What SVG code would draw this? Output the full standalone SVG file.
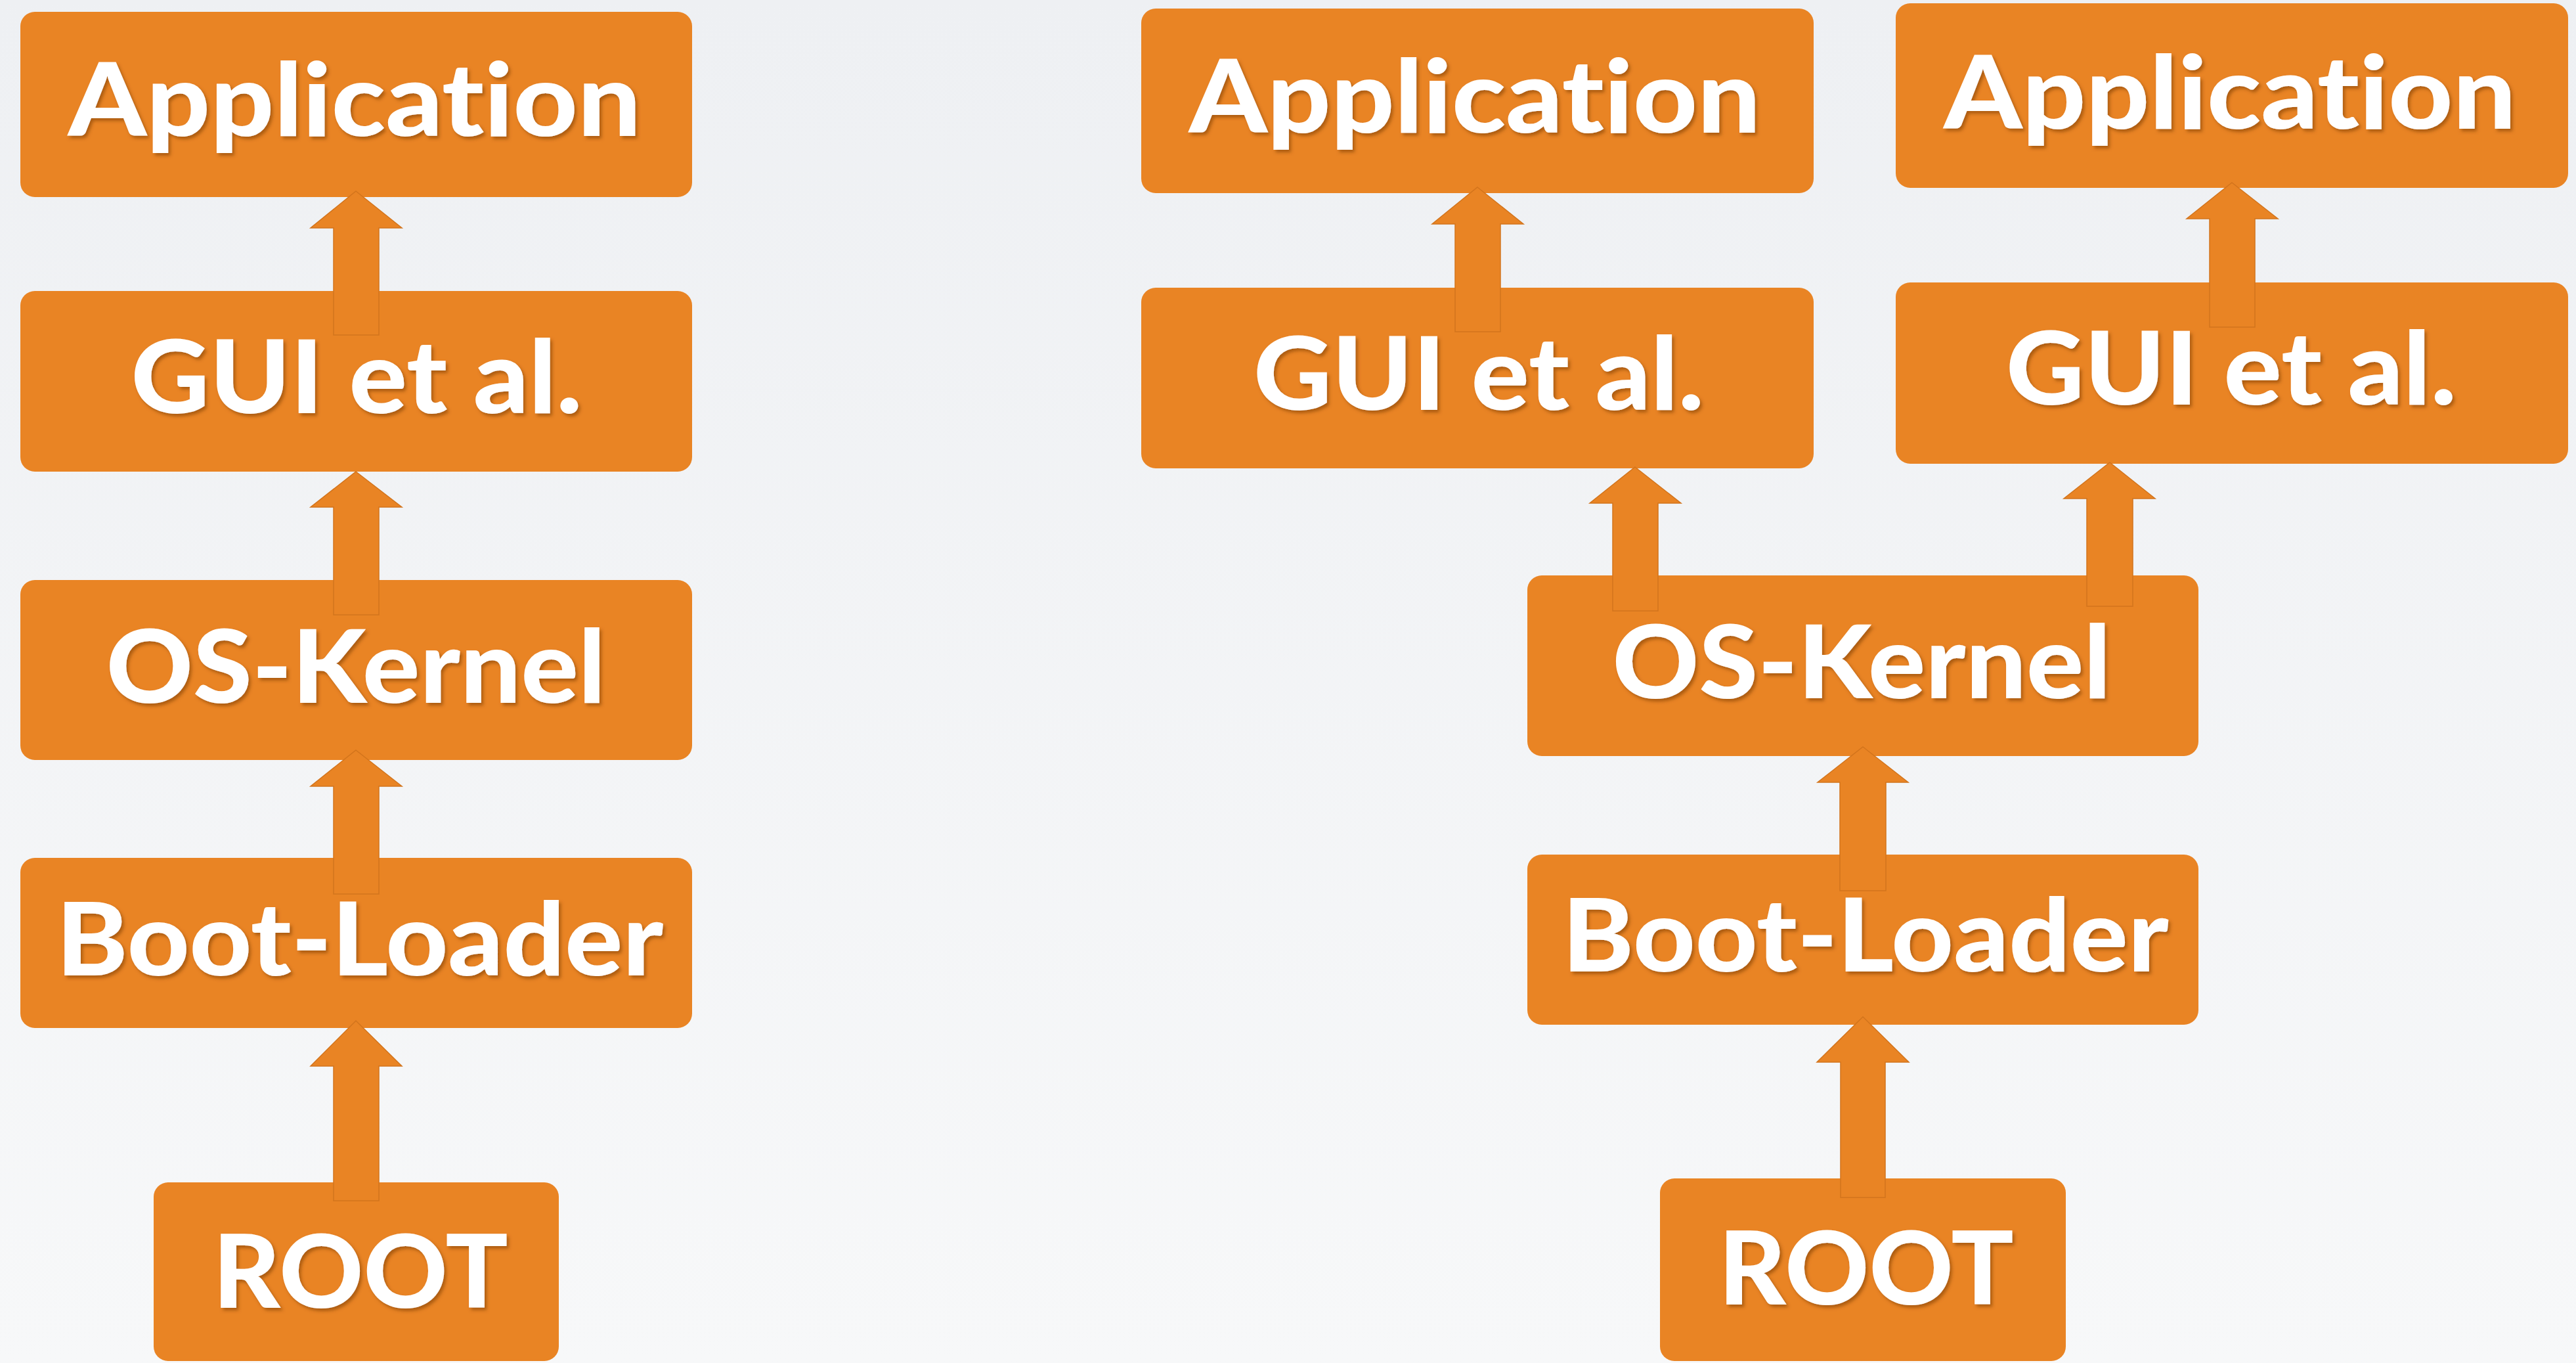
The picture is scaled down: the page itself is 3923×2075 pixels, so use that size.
<svg xmlns="http://www.w3.org/2000/svg" width="3923" height="2075" viewBox="0 0 3923 2075">
  <defs>
    <linearGradient id="bg" x1="0" y1="0" x2="0" y2="1">
      <stop offset="0" stop-color="#eef0f3"/>
      <stop offset="1" stop-color="#f7f8f9"/>
    </linearGradient>
    <filter id="shadow" x="-5%" y="-20%" width="110%" height="140%">
      <feDropShadow dx="3" dy="4" stdDeviation="2.5" flood-color="#7a3a00" flood-opacity="0.55"/>
    </filter>
  </defs>
  <style>
    .box { fill: #e98424; }
    .label { font-family: Lato, "Open Sans", "Liberation Sans", sans-serif; font-weight: 900; font-size: 154px; fill: #ffffff; text-anchor: middle; font-variant-ligatures: none; font-feature-settings: "liga" 0, "clig" 0, "dlig" 0; filter: url(#shadow); }
    .arrow { fill: #e98424; stroke: #d2741c; stroke-width: 1.5; stroke-linejoin: miter; }
  </style>

  <rect x="0" y="0" width="3923" height="2075" fill="url(#bg)"/>

  <!-- labels are widened slightly (scale 1.08 in x) around their centre -->

  <!-- left stack: one chain from ROOT up to a single application -->
  <g id="left-app">
    <rect class="box" x="31" y="18" width="1023" height="282" rx="22" ry="22"/>
    <text class="label" transform="translate(540 207) scale(1.08 1)" textLength="808" lengthAdjust="spacingAndGlyphs">Application</text>
  </g>
  <g id="left-gui">
    <rect class="box" x="31" y="443" width="1023" height="275" rx="22" ry="22"/>
    <text class="label" transform="translate(543 629) scale(1.08 1)" textLength="636" lengthAdjust="spacingAndGlyphs">GUI et al.</text>
  </g>
  <g id="left-kernel">
    <rect class="box" x="31" y="883" width="1023" height="274" rx="22" ry="22"/>
    <text class="label" transform="translate(542 1070) scale(1.08 1)" textLength="704" lengthAdjust="spacingAndGlyphs">OS-Kernel</text>
  </g>
  <g id="left-bootloader">
    <rect class="box" x="31" y="1306" width="1023" height="259" rx="22" ry="22"/>
    <text class="label" transform="translate(548 1485) scale(1.08 1)" textLength="856" lengthAdjust="spacingAndGlyphs">Boot-Loader</text>
  </g>
  <g id="left-root">
    <rect class="box" x="234" y="1800" width="617" height="272" rx="22" ry="22"/>
    <text class="label" transform="translate(549 1991) scale(1.08 1)" textLength="416" lengthAdjust="spacingAndGlyphs">ROOT</text>
  </g>

  <!-- right stack: one kernel branching into two GUI/application chains -->
  <g id="right-app-a">
    <rect class="box" x="1738" y="13" width="1024" height="281" rx="22" ry="22"/>
    <text class="label" transform="translate(2246 202) scale(1.08 1)" textLength="806" lengthAdjust="spacingAndGlyphs">Application</text>
  </g>
  <g id="right-app-b">
    <rect class="box" x="2887" y="5" width="1024" height="281" rx="22" ry="22"/>
    <text class="label" transform="translate(3396 196) scale(1.08 1)" textLength="807" lengthAdjust="spacingAndGlyphs">Application</text>
  </g>
  <g id="right-gui-a">
    <rect class="box" x="1738" y="438" width="1024" height="275" rx="22" ry="22"/>
    <text class="label" transform="translate(2252 624) scale(1.08 1)" textLength="635" lengthAdjust="spacingAndGlyphs">GUI et al.</text>
  </g>
  <g id="right-gui-b">
    <rect class="box" x="2887" y="430" width="1024" height="276" rx="22" ry="22"/>
    <text class="label" transform="translate(3398 616) scale(1.08 1)" textLength="635" lengthAdjust="spacingAndGlyphs">GUI et al.</text>
  </g>
  <g id="right-kernel">
    <rect class="box" x="2326" y="876" width="1022" height="275" rx="22" ry="22"/>
    <text class="label" transform="translate(2835 1063) scale(1.08 1)" textLength="703" lengthAdjust="spacingAndGlyphs">OS-Kernel</text>
  </g>
  <g id="right-bootloader">
    <rect class="box" x="2326" y="1301" width="1022" height="259" rx="22" ry="22"/>
    <text class="label" transform="translate(2841 1479) scale(1.08 1)" textLength="855" lengthAdjust="spacingAndGlyphs">Boot-Loader</text>
  </g>
  <g id="right-root">
    <rect class="box" x="2528" y="1794" width="618" height="278" rx="22" ry="22"/>
    <text class="label" transform="translate(2842 1986) scale(1.08 1)" textLength="416" lengthAdjust="spacingAndGlyphs">ROOT</text>
  </g>

  <!-- block arrows, drawn over the boxes they join -->
  <g id="connectors">
    <!-- left stack -->
    <path class="arrow" d="M542,291 L612,347 L577,347 L577,510 L508,510 L508,347 L473,347 Z"/>
    <path class="arrow" d="M542,718 L612,772 L577,772 L577,936 L508,936 L508,772 L473,772 Z"/>
    <path class="arrow" d="M542,1142 L612,1197 L577,1197 L577,1361 L508,1361 L508,1197 L473,1197 Z"/>
    <path class="arrow" d="M542,1554 L612,1623 L577,1623 L577,1828 L508,1828 L508,1623 L473,1623 Z"/>
    <!-- right stack -->
    <path class="arrow" d="M2250,285 L2320,341 L2285,341 L2285,505 L2216,505 L2216,341 L2181,341 Z"/>
    <path class="arrow" d="M3399,278 L3469,333 L3434,333 L3434,498 L3365,498 L3365,333 L3330,333 Z"/>
    <path class="arrow" d="M2490,711 L2560,766 L2525,766 L2525,930 L2456,930 L2456,766 L2421,766 Z"/>
    <path class="arrow" d="M3213,704 L3282,759 L3248,759 L3248,923 L3178,923 L3178,759 L3143,759 Z"/>
    <path class="arrow" d="M2837,1137 L2906,1191 L2872,1191 L2872,1356 L2802,1356 L2802,1191 L2768,1191 Z"/>
    <path class="arrow" d="M2837,1548 L2907,1617 L2871,1617 L2871,1823 L2803,1823 L2803,1617 L2767,1617 Z"/>
  </g>
</svg>
